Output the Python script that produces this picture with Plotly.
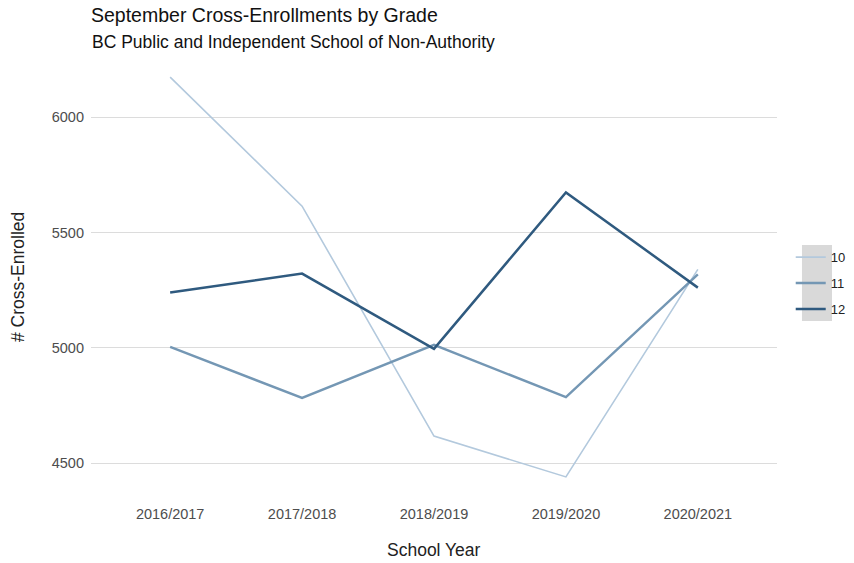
import plotly.graph_objects as go

years = ["2016/2017", "2017/2018", "2018/2019", "2019/2020", "2020/2021"]
grade_10 = [6173, 5614, 4618, 4441, 5340]
grade_11 = [5004, 4783, 5013, 4787, 5318]
grade_12 = [5240, 5322, 4996, 5673, 5261]
grades = ["10", "11", "12"]
y_ticks = [4500, 5000, 5500, 6000]

colors = {"10": "#b3c9dd", "11": "#7497b4", "12": "#2f5a7f"}
widths = {"10": 1.6, "11": 2.4, "12": 2.5}
series = {"10": grade_10, "11": grade_11, "12": grade_12}

FONT = "Liberation Sans, Arial, sans-serif"

fig = go.Figure()
for g in grades:
    fig.add_trace(go.Scatter(
        x=years, y=series[g], mode="lines", name=g, legendgroup=g,
        line=dict(color=colors[g], width=widths[g]),
    ))

# page body has an 8px margin, so the figure is 8px smaller on each axis
fig.update_layout(
    width=846, height=555,
    margin=dict(l=83, r=77, t=49, b=66, autoexpand=False),
    paper_bgcolor="white", plot_bgcolor="white",
    font=dict(family=FONT, color="#222222"),
    xaxis=dict(
        type="category", range=[-0.6, 4.6], showgrid=False, zeroline=False,
        showline=False, ticks="", tickfont=dict(size=14.5, color="#4d4d4d"),
        ticklabelstandoff=6, automargin=False,
    ),
    yaxis=dict(
        range=[4354, 6260], tickvals=y_ticks, showgrid=True, gridcolor="#dcdcdc",
        gridwidth=1, zeroline=False, showline=False, ticks="",
        tickfont=dict(size=14.5, color="#4d4d4d"), ticklabelstandoff=6,
        automargin=False,
    ),
    legend=dict(
        x=1.02, xanchor="left", y=0.486, yanchor="middle",
        bgcolor="rgba(0,0,0,0)", font=dict(size=13, color="#222222"),
        tracegroupgap=6,
    ),
    shapes=[dict(type="rect", xref="paper", yref="paper",
                 x0=1.0364, x1=1.0802, y0=0.40, y1=0.5727,
                 fillcolor="#d9d9d9", line=dict(width=0), layer="below")],
    annotations=[
        dict(text="September Cross-Enrollments by Grade", xref="paper", yref="paper",
             x=-0.0015, y=1.0955, xanchor="left", yanchor="middle", showarrow=False,
             borderpad=0, font=dict(size=19.5, color="#111111", family=FONT)),
        dict(text="BC Public and Independent School of Non-Authority", xref="paper", yref="paper",
             x=-0.0015, y=1.034, xanchor="left", yanchor="middle", showarrow=False,
             font=dict(size=17.5, color="#111111", family=FONT)),
        dict(text="School Year", xref="paper", yref="paper",
             x=0.5, y=-0.1205, xanchor="center", yanchor="middle", showarrow=False,
             font=dict(size=17.5, color="#222222", family=FONT)),
        dict(text="# Cross-Enrolled", xref="paper", yref="paper", textangle=-90,
             x=-0.1064, y=0.5, xanchor="center", yanchor="middle", showarrow=False,
             font=dict(size=17.5, color="#222222", family=FONT)),
    ],
)

fig.write_html("out.html")
